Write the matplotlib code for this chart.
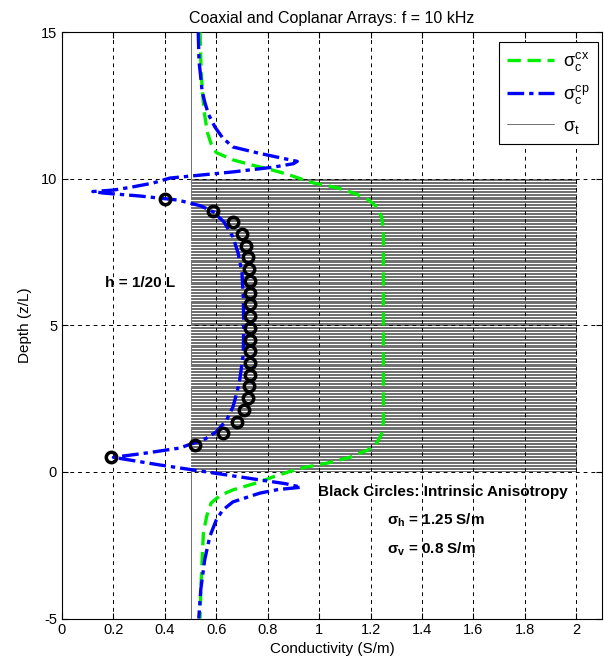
import numpy as np
import matplotlib
matplotlib.use("Agg")
import matplotlib.pyplot as plt

plt.rcParams['font.family'] = ['Liberation Sans', 'DejaVu Sans']
plt.rcParams['mathtext.fontset'] = 'custom'
plt.rcParams['mathtext.rm'] = 'Liberation Sans'
plt.rcParams['mathtext.it'] = 'Liberation Sans'
plt.rcParams['mathtext.bf'] = 'Liberation Sans:bold'
plt.rcParams['axes.unicode_minus'] = False

# coaxial apparent conductivity
cx_z = [15, 14, 13.1, 12.3, 11.6, 11.2, 10.9, 10.65, 10.45, 10.3, 10.15, 10.0,
        9.86, 9.7, 9.5, 9.3, 9.04, 8.7, 8.3, 7, 5, 3, 1.7, 1.3, 1.0, 0.75,
        0.5, 0.3, 0.17, 0.0, -0.17, -0.34, -0.61, -0.8, -1.06, -1.5, -2.08,
        -3, -4, -5]
cx_s = [0.537, 0.54, 0.545, 0.553, 0.565, 0.58, 0.60, 0.665, 0.75, 0.82, 0.88,
        0.93, 0.98, 1.07, 1.14, 1.19, 1.225, 1.243, 1.25, 1.25, 1.25, 1.25,
        1.25, 1.243, 1.225, 1.19, 1.12, 1.03, 0.95, 0.88, 0.82, 0.77, 0.665,
        0.615, 0.58, 0.563, 0.55, 0.545, 0.54, 0.537]

# coplanar apparent conductivity
cp_z = [15, 14, 13.7, 13, 12.6, 12.2, 11.77, 11.4, 11.09, 10.89, 10.72, 10.6,
        10.52, 10.4, 10.24, 10.13, 10.03, 9.86, 9.72, 9.62, 9.57, 9.52, 9.42,
        9.28, 9.17, 9.08, 8.87, 8.53, 8.02, 7.47, 6.8, 6, 5, 4, 3.07, 2.7,
        2.22, 1.77, 1.37, 1.09, 0.92, 0.82, 0.65, 0.5, 0.24, 0.07, -0.1,
        -0.27, -0.4, -0.52, -0.6, -0.72, -1.02, -1.3, -1.64, -2.2, -3, -4, -5]
cp_s = [0.53, 0.533, 0.537, 0.545, 0.556, 0.57, 0.595, 0.625, 0.665, 0.76,
        0.85, 0.915, 0.9, 0.82, 0.665, 0.537, 0.42, 0.354, 0.27, 0.2, 0.12,
        0.16, 0.3, 0.45, 0.5, 0.54, 0.59, 0.63, 0.665, 0.685, 0.70, 0.705,
        0.707, 0.705, 0.69, 0.68, 0.665, 0.64, 0.60, 0.55, 0.49, 0.46, 0.33,
        0.2, 0.38, 0.51, 0.64, 0.77, 0.87, 0.93, 0.84, 0.77, 0.665, 0.625,
        0.60, 0.575, 0.555, 0.54, 0.532]

# intrinsic anisotropy response (black circles)
ani_z = [9.32, 8.92, 8.52, 8.12, 7.72, 7.32, 6.92, 6.52, 6.12, 5.72, 5.32,
         4.92, 4.52, 4.12, 3.72, 3.32, 2.92, 2.52, 2.12, 1.72, 1.32, 0.92, 0.52]
ani_s = [0.40, 0.588, 0.664, 0.70, 0.715, 0.722, 0.728, 0.73, 0.73, 0.73,
         0.73, 0.73, 0.73, 0.73, 0.73, 0.73, 0.729, 0.722, 0.708, 0.68, 0.628,
         0.518, 0.19]

# true profile: thin layers between z = 0 and 10
h = 0.05
z_top, z_bot = 10.0, 0.0
sig_bg, sig_layer = 0.5, 2.0

n = int(round((z_top - z_bot) / h))
edges = z_top - h * np.arange(n + 1)
sig = np.where(np.arange(n) % 2 == 0, sig_layer, sig_bg)
t_z = np.concatenate(([15.0, z_top], np.column_stack((edges[:-1], edges[1:])).ravel(), [-5.0]))
t_s = np.concatenate(([sig_bg, sig_bg], np.repeat(sig, 2), [sig_bg]))

fig = plt.figure(figsize=(6.04, 6.63), dpi=100)
ax = fig.add_axes([0.1026, 0.0671, 0.894, 0.884])

ax.plot(t_s, t_z, color='k', lw=0.4, zorder=2, label=r'$\sigma_t$')
ax.plot(cx_s, cx_z, color='#00ee00', lw=2.4, dashes=(4, 2), zorder=3,
        label=r'$\sigma_c^{cx}$')
ax.plot(cp_s, cp_z, color='#0000ff', lw=2.4, dashes=(5, 1.5, 1.3, 1.5), zorder=4,
        label=r'$\sigma_c^{cp}$')
ax.plot(ani_s, ani_z, ls='none', marker='o', ms=7.5, mfc='none', mec='k',
        mew=2.5, zorder=5)

ax.set_xlim(0, 2.1)
ax.set_ylim(-5, 15)
ax.set_xticks(np.arange(0, 2.01, 0.2))
ax.set_xticklabels(['0', '0.2', '0.4', '0.6', '0.8', '1', '1.2', '1.4', '1.6', '1.8', '2'])
ax.set_yticks([-5, 0, 5, 10, 15])
ax.grid(True, color='k', lw=0.7, linestyle=(0, (4, 4)))
ax.set_axisbelow(True)
ax.tick_params(direction='in', top=True, right=True, length=4, labelsize=10.5)
for sp in ax.spines.values():
    sp.set_linewidth(0.8)

ax.set_xlabel('Conductivity (S/m)', fontsize=11, labelpad=3)
ax.set_ylabel('Depth (z/L)', fontsize=11, labelpad=6)
ax.set_title('Coaxial and Coplanar Arrays: f = 10 kHz', fontsize=11.5, pad=7)

ax.text(0.167, 6.45, 'h = 1/20 L', fontsize=11, fontweight='bold', va='center')
ax.text(0.996, -0.68, 'Black Circles: Intrinsic Anisotropy', fontsize=11,
        fontweight='bold', va='center')
ax.text(1.265, -1.64, r'$\mathbf{\sigma_h}$ = 1.25 S/m', fontsize=11,
        fontweight='bold', va='center')
ax.text(1.265, -2.63, r'$\mathbf{\sigma_v}$ = 0.8 S/m', fontsize=11,
        fontweight='bold', va='center')

handles, labels = ax.get_legend_handles_labels()
order = [1, 2, 0]
leg = ax.legend([handles[i] for i in order], [labels[i] for i in order],
                loc='upper right', bbox_to_anchor=(0.99, 0.937),
                bbox_transform=fig.transFigure, fontsize=13, handlelength=2.6,
                fancybox=False, framealpha=1, edgecolor='k', borderpad=0.45,
                labelspacing=0.6, handletextpad=0.5, borderaxespad=0)
leg.get_frame().set_linewidth(0.8)

fig.savefig('out.png', dpi=100)
